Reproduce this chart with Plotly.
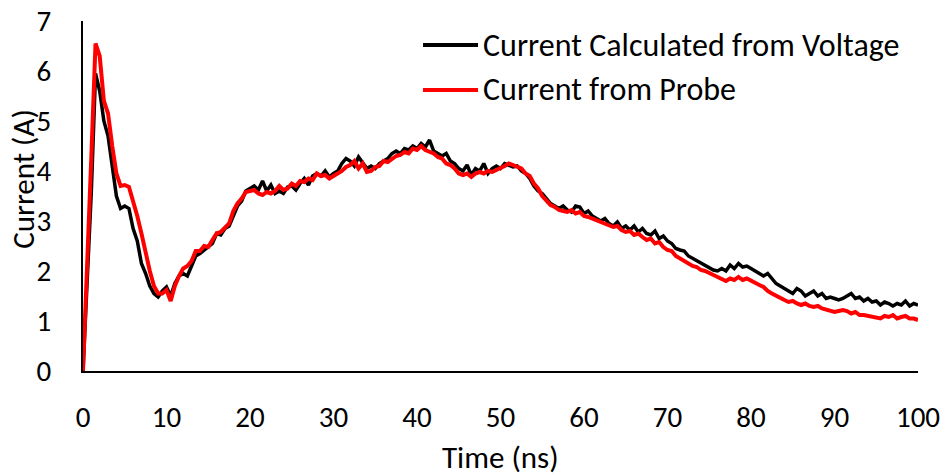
import plotly.graph_objects as go

# Sampling grid (ns)
time_ns = [round(i * 0.5, 1) for i in range(201)]

current_from_voltage = [
    0, 1.8, 3.6, 5.95, 5.6, 5.0, 4.7, 4.1, 3.5, 3.25,
    3.3, 3.25, 2.85, 2.6, 2.15, 1.95, 1.7, 1.55, 1.48, 1.6,
    1.68, 1.5, 1.75, 1.9, 1.95, 1.9, 2.1, 2.3, 2.35, 2.42,
    2.48, 2.55, 2.75, 2.72, 2.85, 2.9, 3.1, 3.3, 3.4, 3.6,
    3.65, 3.7, 3.62, 3.8, 3.6, 3.72, 3.55, 3.6, 3.55, 3.68,
    3.7, 3.62, 3.75, 3.85, 3.72, 3.9, 3.95, 3.9, 4.0, 3.88,
    3.95, 4.0, 4.15, 4.25, 4.2, 4.1, 4.28, 4.15, 4.05, 4.1,
    4.05, 4.15, 4.2, 4.25, 4.35, 4.4, 4.35, 4.45, 4.42, 4.5,
    4.45, 4.55, 4.48, 4.62, 4.4, 4.35, 4.3, 4.35, 4.2, 4.15,
    4.05, 4.0, 4.12, 3.92, 4.05, 4.0, 4.15, 3.95, 4.05, 4.1,
    4.05, 4.15, 4.12, 4.08, 4.1, 4.0, 3.95, 3.85, 3.7, 3.6,
    3.55, 3.45, 3.35, 3.3, 3.25, 3.3, 3.22, 3.18, 3.3, 3.28,
    3.15, 3.2, 3.1, 3.05, 3.0, 3.05, 2.95, 2.9, 2.98, 2.85,
    2.9, 2.82, 2.9, 2.78, 2.85, 2.75, 2.72, 2.8, 2.65, 2.7,
    2.6, 2.55, 2.45, 2.42, 2.4, 2.3, 2.25, 2.2, 2.15, 2.1,
    2.05, 2.02, 2.0, 2.05, 2.0, 2.12, 2.05, 2.15, 2.08, 2.1,
    2.05, 2.0, 1.95, 1.9, 1.95, 1.85, 1.75, 1.7, 1.65, 1.6,
    1.55, 1.65, 1.6, 1.5, 1.55, 1.6, 1.5, 1.55, 1.45, 1.48,
    1.45, 1.42, 1.45, 1.5, 1.55, 1.45, 1.48, 1.4, 1.45, 1.38,
    1.4, 1.32, 1.38, 1.35, 1.3, 1.35, 1.32, 1.4, 1.3, 1.35,
    1.32,
]

current_from_probe = [
    0, 2.0, 4.3, 6.55, 6.3, 5.4, 5.15, 4.5, 3.95, 3.7,
    3.72, 3.68, 3.4, 3.1, 2.75, 2.35, 2.0, 1.7, 1.55, 1.55,
    1.62, 1.4, 1.7, 1.9, 2.05, 2.1, 2.2, 2.4, 2.4, 2.5,
    2.48, 2.62, 2.75, 2.78, 2.88, 2.95, 3.2, 3.35, 3.45, 3.58,
    3.6, 3.62, 3.55, 3.52, 3.58, 3.55, 3.6, 3.7, 3.62, 3.65,
    3.75, 3.7, 3.8, 3.78, 3.85, 3.82, 3.95, 3.9, 3.92, 3.85,
    3.9, 3.95, 4.0, 4.08, 4.12, 4.2, 4.05, 4.15, 3.98, 4.0,
    4.08, 4.1, 4.2, 4.18, 4.25, 4.3, 4.32, 4.38, 4.35, 4.45,
    4.42, 4.5, 4.42, 4.38, 4.35, 4.28, 4.25, 4.15, 4.12, 4.05,
    3.95, 3.92, 3.95, 3.88, 3.95, 3.98, 3.95, 4.0, 3.98, 4.02,
    4.05, 4.1, 4.15, 4.12, 4.08, 4.05, 3.95, 3.9, 3.75, 3.65,
    3.5, 3.4, 3.32, 3.28, 3.22, 3.2, 3.18, 3.22, 3.15, 3.18,
    3.1, 3.08, 3.05, 3.0, 2.98, 2.95, 2.92, 2.88, 2.9, 2.82,
    2.78, 2.8, 2.72, 2.75, 2.68, 2.62, 2.65, 2.55, 2.58, 2.48,
    2.42, 2.4, 2.3, 2.25, 2.22, 2.15, 2.1, 2.08, 2.02, 2.0,
    1.95, 1.92, 1.88, 1.85, 1.8, 1.85, 1.82, 1.88, 1.82, 1.85,
    1.8, 1.75, 1.72, 1.68, 1.6, 1.55, 1.5, 1.45, 1.42, 1.38,
    1.4, 1.35, 1.32, 1.35, 1.3, 1.28, 1.3, 1.25, 1.22, 1.2,
    1.18, 1.2, 1.22, 1.2, 1.15, 1.18, 1.12, 1.12, 1.1, 1.08,
    1.05, 1.05, 1.1, 1.08, 1.12, 1.05, 1.08, 1.1, 1.05, 1.05,
    1.02,
]

series_names = ["Current Calculated from Voltage", "Current from Probe"]
series_colors = ["#000000", "#FF0000"]
x_ticks = [0, 10, 20, 30, 40, 50, 60, 70, 80, 90, 100]
y_ticks = [0, 1, 2, 3, 4, 5, 6, 7]

FONT = "Carlito, Calibri, Liberation Sans, Arial, sans-serif"

fig = go.Figure()
fig.add_trace(go.Scatter(
    x=time_ns, y=current_from_voltage, mode="lines",
    name=series_names[0], showlegend=False,
    line=dict(color=series_colors[0], width=3.5),
))
fig.add_trace(go.Scatter(
    x=time_ns, y=current_from_probe, mode="lines",
    name=series_names[1], showlegend=False,
    line=dict(color=series_colors[1], width=4),
))

# Custom legend (long line samples, as in the reference)
legend_rows_y = [0.9314, 0.8029]
shapes = []
annotations = []
for name, color, ly in zip(series_names, series_colors, legend_rows_y):
    shapes.append(dict(
        type="line", xref="paper", yref="paper",
        x0=0.4072, x1=0.4731, y0=ly, y1=ly,
        line=dict(color=color, width=4),
    ))
    annotations.append(dict(
        text=name, xref="paper", yref="paper",
        x=0.4766, y=ly, xanchor="left", yanchor="middle",
        showarrow=False, font=dict(size=32, color="#000000"),
    ))

annotations.append(dict(
    text="Current (A)", xref="paper", yref="paper",
    x=-0.072, y=0.549, xanchor="center", yanchor="middle",
    textangle=-90, showarrow=False, font=dict(size=31),
))
annotations.append(dict(
    text="Time (ns)", xref="paper", yref="paper",
    x=0.5, y=-0.246, xanchor="center", yanchor="middle",
    showarrow=False, font=dict(size=31),
))

fig.update_layout(
    width=947, height=475,
    margin=dict(l=83, r=29, t=21, b=104, autoexpand=False),
    paper_bgcolor="white", plot_bgcolor="white",
    font=dict(family=FONT, size=29, color="#000000"),
    showlegend=False,
    xaxis=dict(
        range=[0, 100], tickvals=x_ticks, showgrid=False, zeroline=False,
        showline=True, linecolor="#000000", linewidth=2,
        ticks="", ticklabelstandoff=19, automargin=False,
        tickfont=dict(size=29),
    ),
    yaxis=dict(
        range=[0, 7], tickvals=y_ticks, showgrid=False, zeroline=False,
        showline=True, linecolor="#000000", linewidth=2,
        ticks="", ticklabelstandoff=24, automargin=False,
        tickfont=dict(size=29),
    ),
    shapes=shapes,
    annotations=annotations,
)

fig.write_html("out.html")
